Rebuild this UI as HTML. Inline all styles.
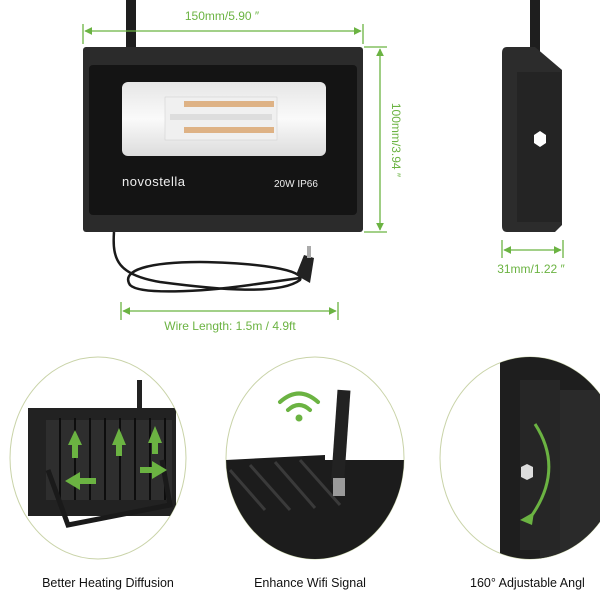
<!DOCTYPE html>
<html><head><style>
html,body{margin:0;padding:0;background:#fff}
svg{display:block}
text{font-family:"Liberation Sans",sans-serif}
</style></head><body>
<svg width="600" height="600" viewBox="0 0 600 600" xmlns="http://www.w3.org/2000/svg">
<defs>
<marker id="ah" viewBox="0 0 10 10" refX="9" refY="5" markerWidth="6" markerHeight="6" orient="auto-start-reverse"><path d="M0,0 L10,5 L0,10 z" fill="#6bb342"/></marker>
<linearGradient id="win" x1="0" y1="0" x2="0" y2="1"><stop offset="0" stop-color="#e6e6e6"/><stop offset="0.5" stop-color="#fafafa"/><stop offset="1" stop-color="#dcdcdc"/></linearGradient>
<clipPath id="c1"><ellipse cx="98" cy="458" rx="88" ry="101"/></clipPath>
<clipPath id="c2"><ellipse cx="315" cy="458" rx="89" ry="101"/></clipPath>
<clipPath id="c3"><ellipse cx="530" cy="458" rx="90" ry="101"/></clipPath>
</defs>

<!-- top view -->
<rect x="126" y="0" width="10" height="50" fill="#1e1e1e"/>
<rect x="83" y="47" width="280" height="185" rx="3" fill="#2b2b2b"/>
<rect x="89" y="65" width="268" height="150" rx="4" fill="#141414"/>
<rect x="122" y="82" width="204" height="74" rx="6" fill="url(#win)"/>
<rect x="165" y="97" width="112" height="43" fill="#f0f0f0" stroke="#ccc" stroke-width="0.5"/>
<g fill="#d9a36a">
<rect x="184" y="101" width="90" height="6" opacity="0.8"/>
<rect x="184" y="127" width="90" height="6" opacity="0.8"/>
</g>
<g fill="#ddd"><rect x="170" y="114" width="102" height="6"/></g>
<text x="122" y="186" font-size="13" fill="#eee" letter-spacing="0.5">novostella</text>
<text x="274" y="187" font-size="10" fill="#eee">20W  IP66</text>

<!-- cable -->
<path d="M114,232 C112,260 118,275 160,282 C220,290 280,295 300,280 C305,270 260,263 200,262 C150,262 120,270 130,285 C140,295 200,292 250,285 L300,278" fill="none" stroke="#1a1a1a" stroke-width="2.5"/>
<path d="M296,275 L304,255 L314,258 L310,283 Z" fill="#222"/>
<rect x="307" y="246" width="4" height="12" fill="#aaa"/>

<!-- dims -->
<g stroke="#6bb342" stroke-width="1.3">
<line x1="83" y1="24" x2="83" y2="44"/><line x1="363" y1="24" x2="363" y2="44"/>
<line x1="85" y1="31" x2="361" y2="31" marker-start="url(#ah)" marker-end="url(#ah)"/>
<line x1="364" y1="47" x2="387" y2="47"/><line x1="364" y1="232" x2="387" y2="232"/>
<line x1="380" y1="49" x2="380" y2="230" marker-start="url(#ah)" marker-end="url(#ah)"/>
<line x1="121" y1="302" x2="121" y2="320"/><line x1="338" y1="302" x2="338" y2="320"/>
<line x1="123" y1="311" x2="336" y2="311" marker-start="url(#ah)" marker-end="url(#ah)"/>
<line x1="502" y1="240" x2="502" y2="258"/><line x1="563" y1="240" x2="563" y2="258"/>
<line x1="504" y1="250" x2="561" y2="250" marker-start="url(#ah)" marker-end="url(#ah)"/>
</g>
<text x="222" y="20" font-size="12" fill="#6bb342" text-anchor="middle">150mm/5.90 ″</text>
<text transform="translate(392,140) rotate(90)" font-size="12" fill="#6bb342" text-anchor="middle">100mm/3.94 ″</text>
<text x="230" y="330" font-size="12" fill="#6bb342" text-anchor="middle">Wire Length: 1.5m / 4.9ft</text>
<text x="531" y="273" font-size="12" fill="#6bb342" text-anchor="middle">31mm/1.22 ″</text>

<!-- side view -->
<rect x="530" y="0" width="10" height="55" fill="#1e1e1e"/>
<path d="M507,47 L535,47 L562,70 L562,225 L555,232 L507,232 Q502,232 502,226 L502,53 Q502,47 507,47 Z" fill="#2c2c2c"/>
<rect x="517" y="72" width="44" height="150" fill="#242424"/>
<polygon points="540,131 546,135 546,143 540,147 534,143 534,135" fill="#fff"/>

<!-- circles -->
<ellipse cx="98" cy="458" rx="88" ry="101" fill="#fff" stroke="#c9d3a8" stroke-width="1"/>
<g clip-path="url(#c1)">
<rect x="28" y="408" width="148" height="108" fill="#222"/>
<rect x="46" y="420" width="126" height="80" fill="#2e2e2e"/>
<g stroke="#0d0d0d" stroke-width="2">
<line x1="60" y1="418" x2="60" y2="500"/><line x1="75" y1="418" x2="75" y2="500"/><line x1="90" y1="418" x2="90" y2="500"/><line x1="105" y1="418" x2="105" y2="500"/><line x1="120" y1="418" x2="120" y2="500"/><line x1="135" y1="418" x2="135" y2="500"/><line x1="150" y1="418" x2="150" y2="500"/><line x1="165" y1="418" x2="165" y2="500"/>
</g>
<rect x="137" y="380" width="5" height="35" fill="#222"/>
<path d="M48,470 L68,525 L170,505 L162,460" fill="none" stroke="#1a1a1a" stroke-width="5"/>
<g fill="#6bb342">
<path d="M68,445 L75,430 L82,445 L78,445 L78,458 L72,458 L72,445Z"/>
<path d="M112,445 L119,428 L126,445 L122,445 L122,456 L116,456 L116,445Z"/>
<path d="M148,443 L155,426 L162,443 L158,443 L158,454 L152,454 L152,443Z"/>
<path d="M65,481 L80,472 L80,478 L96,478 L96,484 L80,484 L80,490Z"/>
<path d="M167,470 L152,461 L152,467 L140,467 L140,473 L152,473 L152,479Z"/>
</g>
</g>

<ellipse cx="315" cy="458" rx="89" ry="101" fill="#fff" stroke="#c9d3a8" stroke-width="1"/>
<g clip-path="url(#c2)">
<path d="M225,460 L325,455 L325,460 L410,460 L410,560 L225,560Z" fill="#1c1c1c"/>
<g stroke="#3a3a3a" stroke-width="3">
<line x1="230" y1="470" x2="265" y2="510"/><line x1="250" y1="465" x2="290" y2="510"/><line x1="275" y1="462" x2="315" y2="508"/><line x1="300" y1="460" x2="340" y2="505"/>
</g>
<rect x="334" y="390" width="13" height="95" fill="#222" transform="rotate(4 340 440)"/>
<rect x="333" y="478" width="12" height="18" fill="#9a9a9a"/>
</g>
<g fill="none" stroke="#6bb342" stroke-width="4" stroke-linecap="round">
<path d="M280,402 Q299,385 318,402"/><path d="M288,410 Q299,400 310,410"/>
</g>
<circle cx="299" cy="418" r="3.5" fill="#6bb342"/>

<ellipse cx="530" cy="458" rx="90" ry="101" fill="#fff" stroke="#c9d3a8" stroke-width="1"/>
<g clip-path="url(#c3)">
<rect x="500" y="355" width="110" height="210" fill="#1e1e1e"/>
<rect x="540" y="390" width="70" height="170" fill="#2a2a2a"/>
<rect x="520" y="380" width="40" height="170" fill="#262626"/>
<polygon points="527,464 533,467 533,477 527,480 521,477 521,467" fill="#ddd"/>
<path d="M535,424 Q565,470 530,518" fill="none" stroke="#6bb342" stroke-width="3"/>
<path d="M520,520 L534,512 L532,525Z" fill="#6bb342"/>
</g>

<g font-family="'Liberation Sans',sans-serif" font-size="12.5" fill="#111">
<text x="108" y="587" text-anchor="middle">Better Heating Diffusion</text>
<text x="310" y="587" text-anchor="middle">Enhance Wifi Signal</text>
<text x="470" y="587">160° Adjustable Angl</text>
</g>
</svg>
</body></html>
